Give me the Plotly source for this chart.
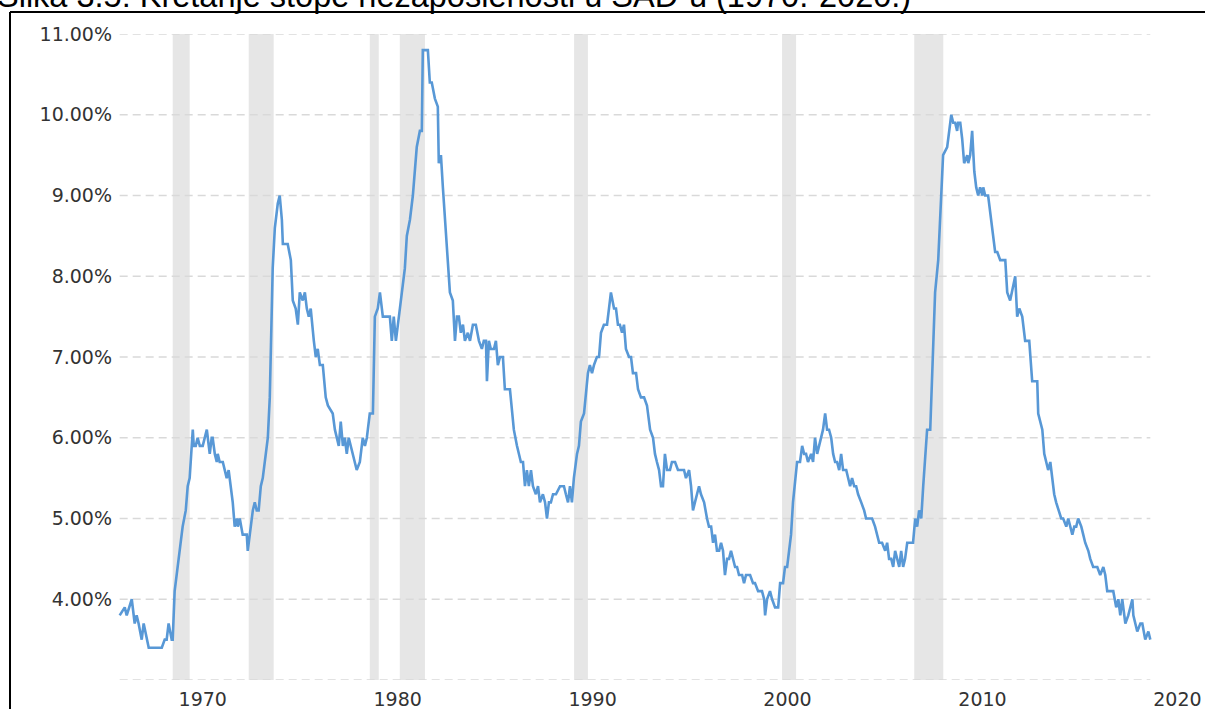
"""
stopa nezaposlenosti u SAD-u, mjesecni podaci s recesijama
"""
from plotly.graph_objects import Scatter, Figure

# podaci (godina kao decimalni broj, stopa u %)
godine = [
    1965.74, 1966.00, 1966.10, 1966.36, 1966.51, 1966.61, 1966.71, 1966.87, 1966.97, 1967.13,
    1967.23, 1967.90, 1968.05, 1968.15, 1968.25, 1968.41, 1968.46, 1968.56, 1968.67, 1968.82,
    1968.97, 1969.13, 1969.23, 1969.33, 1969.49, 1969.54, 1969.64, 1969.74, 1969.85, 1970.00,
    1970.21, 1970.26, 1970.36, 1970.46, 1970.51, 1970.62, 1970.72, 1970.77, 1970.87, 1971.03,
    1971.23, 1971.33, 1971.44, 1971.54, 1971.64, 1971.75, 1971.80, 1971.90, 1972.05, 1972.26,
    1972.31, 1972.41, 1972.57, 1972.67, 1972.77, 1972.87, 1972.98, 1973.08, 1973.23, 1973.34,
    1973.44, 1973.49, 1973.59, 1973.70, 1973.85, 1973.95, 1974.06, 1974.11, 1974.36, 1974.52,
    1974.62, 1974.77, 1974.88, 1974.98, 1975.13, 1975.24, 1975.34, 1975.44, 1975.54, 1975.70,
    1975.80, 1975.90, 1976.01, 1976.16, 1976.31, 1976.42, 1976.67, 1976.78, 1976.98, 1977.08,
    1977.19, 1977.29, 1977.39, 1977.49, 1977.70, 1977.90, 1978.06, 1978.21, 1978.32, 1978.42,
    1978.57, 1978.73, 1978.83, 1978.98, 1979.09, 1979.24, 1979.44, 1979.60, 1979.70, 1979.80,
    1979.91, 1980.01, 1980.16, 1980.27, 1980.37, 1980.47, 1980.63, 1980.78, 1980.88, 1980.98,
    1981.14, 1981.24, 1981.29, 1981.55, 1981.65, 1981.75, 1981.91, 1982.06, 1982.11, 1982.22,
    1982.32, 1982.58, 1982.68, 1982.83, 1982.94, 1983.04, 1983.14, 1983.24, 1983.35, 1983.45,
    1983.60, 1983.71, 1983.86, 1984.01, 1984.17, 1984.32, 1984.42, 1984.53, 1984.58, 1984.68,
    1984.78, 1984.94, 1985.04, 1985.14, 1985.25, 1985.40, 1985.50, 1985.76, 1985.86, 1985.96,
    1986.12, 1986.22, 1986.32, 1986.43, 1986.53, 1986.63, 1986.73, 1986.84, 1986.94, 1987.09,
    1987.20, 1987.30, 1987.45, 1987.56, 1987.66, 1987.76, 1987.86, 1987.97, 1988.12, 1988.33,
    1988.53, 1988.63, 1988.74, 1988.84, 1988.94, 1989.04, 1989.20, 1989.30, 1989.40, 1989.56,
    1989.66, 1989.76, 1989.86, 1989.97, 1990.07, 1990.22, 1990.33, 1990.43, 1990.58, 1990.74,
    1990.84, 1990.94, 1991.10, 1991.20, 1991.30, 1991.40, 1991.51, 1991.61, 1991.71, 1991.87,
    1991.97, 1992.07, 1992.23, 1992.33, 1992.48, 1992.64, 1992.79, 1992.95, 1993.10, 1993.20,
    1993.30, 1993.41, 1993.51, 1993.61, 1993.71, 1993.82, 1993.97, 1994.07, 1994.23, 1994.38,
    1994.54, 1994.69, 1994.79, 1994.95, 1995.05, 1995.15, 1995.25, 1995.36, 1995.46, 1995.56,
    1995.72, 1995.87, 1995.97, 1996.08, 1996.18, 1996.28, 1996.38, 1996.49, 1996.59, 1996.69,
    1996.79, 1996.90, 1997.00, 1997.10, 1997.21, 1997.31, 1997.41, 1997.51, 1997.67, 1997.77,
    1997.87, 1998.08, 1998.23, 1998.33, 1998.49, 1998.69, 1998.80, 1998.85, 1998.95, 1999.10,
    1999.21, 1999.36, 1999.52, 1999.62, 1999.77, 1999.87, 1999.98, 2000.08, 2000.18, 2000.28,
    2000.39, 2000.49, 2000.64, 2000.75, 2000.85, 2000.95, 2001.05, 2001.21, 2001.31, 2001.41,
    2001.52, 2001.62, 2001.72, 2001.82, 2001.93, 2002.03, 2002.13, 2002.24, 2002.34, 2002.44,
    2002.54, 2002.65, 2002.75, 2002.85, 2003.01, 2003.11, 2003.21, 2003.31, 2003.42, 2003.52,
    2003.62, 2003.78, 2003.93, 2004.03, 2004.19, 2004.34, 2004.49, 2004.60, 2004.70, 2004.85,
    2005.01, 2005.11, 2005.21, 2005.32, 2005.42, 2005.52, 2005.62, 2005.73, 2005.83, 2005.93,
    2006.03, 2006.14, 2006.29, 2006.44, 2006.55, 2006.65, 2006.75, 2006.86, 2006.96, 2007.06,
    2007.16, 2007.32, 2007.42, 2007.47, 2007.57, 2007.73, 2007.93, 2007.98, 2008.19, 2008.24,
    2008.40, 2008.50, 2008.60, 2008.70, 2008.75, 2008.86, 2008.96, 2009.06, 2009.22, 2009.27,
    2009.37, 2009.47, 2009.58, 2009.68, 2009.78, 2009.88, 2009.99, 2010.04, 2010.14, 2010.29,
    2010.50, 2010.65, 2010.76, 2010.91, 2011.17, 2011.27, 2011.42, 2011.58, 2011.68, 2011.78,
    2011.89, 2012.04, 2012.19, 2012.40, 2012.50, 2012.55, 2012.71, 2012.81, 2012.86, 2012.96,
    2013.07, 2013.17, 2013.27, 2013.37, 2013.48, 2013.58, 2013.68, 2013.78, 2013.89, 2014.04,
    2014.14, 2014.30, 2014.40, 2014.50, 2014.61, 2014.71, 2014.81, 2014.91, 2015.07, 2015.17,
    2015.27, 2015.43, 2015.53, 2015.68, 2015.89, 2016.04, 2016.20, 2016.30, 2016.40, 2016.56,
    2016.71, 2016.86, 2016.97, 2017.07, 2017.17, 2017.33, 2017.48, 2017.69, 2017.74, 2017.94,
    2018.10, 2018.20, 2018.35, 2018.51, 2018.61,
]

stopa = [
    3.8, 3.9, 3.8, 4.0, 3.7, 3.8, 3.7, 3.5, 3.7, 3.5,
    3.4, 3.4, 3.5, 3.5, 3.7, 3.5, 3.5, 4.1, 4.3, 4.6,
    4.9, 5.1, 5.4, 5.5, 6.1, 5.9, 5.9, 6.0, 5.9, 5.9,
    6.1, 6.0, 5.8, 6.0, 6.0, 5.8, 5.7, 5.8, 5.7, 5.7,
    5.5, 5.6, 5.4, 5.2, 4.9, 5.0, 4.9, 5.0, 4.8, 4.8,
    4.6, 4.8, 5.1, 5.2, 5.1, 5.1, 5.4, 5.5, 5.8, 6.0,
    6.5, 7.2, 8.1, 8.6, 8.9, 9.0, 8.7, 8.4, 8.4, 8.2,
    7.7, 7.6, 7.4, 7.8, 7.7, 7.8, 7.6, 7.5, 7.6, 7.2,
    7.0, 7.1, 6.9, 6.9, 6.5, 6.4, 6.3, 6.1, 5.9, 6.2,
    5.9, 6.0, 5.8, 6.0, 5.8, 5.6, 5.7, 6.0, 5.9, 6.0,
    6.3, 6.3, 7.5, 7.6, 7.8, 7.5, 7.5, 7.5, 7.2, 7.5,
    7.2, 7.4, 7.7, 7.9, 8.1, 8.5, 8.7, 9.0, 9.3, 9.6,
    9.8, 9.8, 10.8, 10.8, 10.4, 10.4, 10.2, 10.1, 9.4, 9.5,
    9.1, 8.1, 7.8, 7.7, 7.2, 7.5, 7.5, 7.3, 7.4, 7.2,
    7.3, 7.2, 7.4, 7.4, 7.2, 7.1, 7.2, 7.2, 6.7, 7.2,
    7.1, 7.1, 7.2, 6.9, 7.0, 7.0, 6.6, 6.6, 6.3, 6.1,
    5.9, 5.8, 5.7, 5.7, 5.4, 5.6, 5.4, 5.6, 5.4, 5.3,
    5.4, 5.2, 5.3, 5.2, 5.0, 5.2, 5.2, 5.3, 5.3, 5.4,
    5.4, 5.3, 5.2, 5.4, 5.2, 5.5, 5.8, 5.9, 6.2, 6.3,
    6.6, 6.8, 6.9, 6.8, 6.9, 7.0, 7.0, 7.3, 7.4, 7.4,
    7.6, 7.8, 7.6, 7.6, 7.4, 7.4, 7.3, 7.4, 7.1, 7.0,
    7.0, 6.8, 6.8, 6.6, 6.5, 6.5, 6.4, 6.1, 6.0, 5.8,
    5.7, 5.6, 5.4, 5.4, 5.8, 5.6, 5.6, 5.7, 5.7, 5.6,
    5.6, 5.6, 5.5, 5.6, 5.4, 5.1, 5.2, 5.3, 5.4, 5.3,
    5.2, 5.0, 4.9, 4.9, 4.7, 4.8, 4.6, 4.6, 4.7, 4.6,
    4.3, 4.5, 4.5, 4.6, 4.5, 4.4, 4.4, 4.3, 4.3, 4.2,
    4.3, 4.3, 4.2, 4.2, 4.1, 4.1, 4.0, 3.8, 4.0, 4.1,
    4.0, 3.9, 3.9, 4.2, 4.2, 4.4, 4.4, 4.6, 4.8, 5.2,
    5.5, 5.7, 5.7, 5.9, 5.8, 5.8, 5.7, 5.8, 5.7, 6.0,
    5.8, 5.9, 6.0, 6.1, 6.3, 6.1, 6.1, 6.0, 5.8, 5.7,
    5.7, 5.6, 5.8, 5.6, 5.6, 5.5, 5.4, 5.5, 5.4, 5.4,
    5.3, 5.2, 5.1, 5.0, 5.0, 5.0, 4.9, 4.8, 4.7, 4.7,
    4.6, 4.7, 4.5, 4.5, 4.4, 4.6, 4.5, 4.4, 4.6, 4.4,
    4.5, 4.7, 4.7, 4.7, 5.0, 4.9, 5.1, 5.0, 5.4, 5.8,
    6.1, 6.1, 6.8, 7.1, 7.8, 8.2, 9.4, 9.5, 9.6, 9.7,
    10.0, 9.9, 9.9, 9.8, 9.9, 9.9, 9.7, 9.4, 9.5, 9.4,
    9.5, 9.8, 9.3, 9.1, 9.0, 9.1, 9.0, 9.1, 9.0, 9.0,
    8.6, 8.3, 8.3, 8.2, 8.2, 7.8, 7.7, 7.9, 8.0, 7.5,
    7.6, 7.5, 7.2, 7.2, 6.9, 6.7, 6.7, 6.7, 6.3, 6.2,
    6.1, 5.8, 5.7, 5.6, 5.7, 5.5, 5.3, 5.2, 5.1, 5.0,
    5.0, 4.9, 5.0, 4.9, 4.8, 4.9, 4.9, 5.0, 4.9, 4.8,
    4.7, 4.6, 4.5, 4.4, 4.4, 4.3, 4.4, 4.3, 4.1, 4.1,
    4.1, 3.9, 4.0, 3.8, 4.0, 3.7, 3.8, 4.0, 3.8, 3.6,
    3.7, 3.7, 3.5, 3.6, 3.5,
]

# recesije (pocetak, kraj)
recesija_od = [1968.46, 1972.36, 1978.57, 1980.11, 1989.05, 1999.72, 2006.50]
recesija_do = [1969.33, 1973.64, 1979.03, 1981.40, 1989.76, 2000.44, 2007.99]

# osi
y_mreza = [3, 4, 5, 6, 7, 8, 9, 10, 11]
y_oznake = [4, 5, 6, 7, 8, 9, 10, 11]
x_oznake = [1970, 1980, 1990, 2000, 2010, 2020]

naslov = "Slika 3.5: Kretanje stope nezaposlenosti u SAD-u (1970.-2020.)"


def oblici():
    """sive trake recesija, isprekidana mreza i crni okvir"""
    s = []
    for a, b in zip(recesija_od, recesija_do):
        s.append(dict(type="rect", xref="x", yref="y", x0=a, x1=b,
                      y0=y_mreza[0], y1=y_mreza[-1], fillcolor="#e6e6e6",
                      line_width=0, layer="below"))
    for v in y_mreza:
        s.append(dict(type="line", xref="x", yref="y", x0=godine[0], x1=godine[-1],
                      y0=v, y1=v, layer="below",
                      line=dict(color="#d9d9d9", width=1.5, dash="8px,5px")))
    # okvir slike
    s.append(dict(type="line", xref="paper", yref="paper", x0=-0.0974, x1=-0.0974,
                  y0=-0.08, y1=1.034, line=dict(color="black", width=2)))
    s.append(dict(type="line", xref="paper", yref="paper", x0=-0.0974, x1=1.03,
                  y0=1.034, y1=1.034, line=dict(color="black", width=2)))
    return s


def main():
    fig = Figure()
    fig.add_trace(Scatter(x=godine, y=stopa, mode="lines",
                          line=dict(color="#5898d6", width=2.6),
                          hoverinfo="x+y", showlegend=False))
    fig.update_layout(
        width=1205, height=709,
        margin=dict(l=115, r=12, t=34, b=29, autoexpand=False),
        paper_bgcolor="white", plot_bgcolor="white",
        font=dict(family="DejaVu Sans", color="#333333", size=19),
        shapes=oblici(),
        annotations=[dict(text=naslov, xref="paper", yref="paper",
                          x=-0.1113, y=1.0588, xanchor="left", yanchor="middle",
                          showarrow=False,
                          font=dict(family="Liberation Sans", size=32.5, color="black"))],
    )
    fig.update_xaxes(range=[1965.5, 2020.8], tickvals=x_oznake, showgrid=False,
                     zeroline=False, showline=False, ticks="", automargin=False,
                     ticklabelstandoff=6)
    fig.update_yaxes(range=[3, 11], tickvals=y_oznake,
                     ticktext=["%.2f%%" % v for v in y_oznake], automargin=False,
                     showgrid=False, zeroline=False, showline=False, ticks="",
                     ticklabelstandoff=2)
    # bez ruba stranice, da slika krene od samog kuta prozora
    fig.write_html("out.html", config={"displayModeBar": False},
                   post_script="document.body.style.margin='0px';")


if __name__ == "__main__":
    main()
